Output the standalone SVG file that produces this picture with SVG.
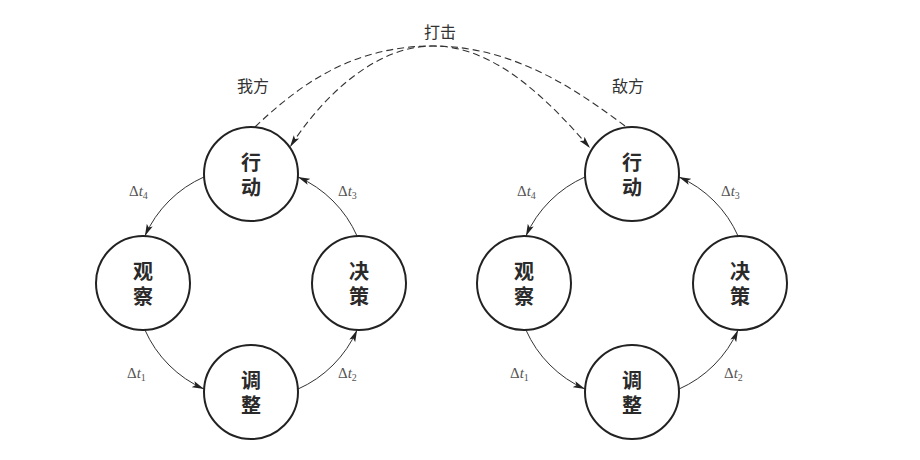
<svg xmlns="http://www.w3.org/2000/svg" width="920" height="460" viewBox="0 0 920 460">
<defs>
<marker id="arr" viewBox="0 0 12 8" refX="12" refY="4" markerWidth="12" markerHeight="8" markerUnits="userSpaceOnUse" orient="auto">
<path d="M0,0.8 L12,4 L0,7.2 L2.5,4 Z" fill="#222"/>
</marker>
</defs>
<style>
.node circle{fill:#fff;stroke:#222;stroke-width:2}
.node text{font-family:"Noto Sans CJK SC","Noto Sans",sans-serif;font-size:20px;font-weight:bold;fill:#2a2a2a;text-anchor:middle;writing-mode:vertical-rl;letter-spacing:5px}
.arc{fill:none;stroke:#333;stroke-width:1}
.dash{fill:none;stroke:#333;stroke-width:1.1;stroke-dasharray:7 4}
.dt{font-family:"Liberation Serif","Times New Roman",serif;font-size:15px;fill:#555}
.dt .i{font-style:italic}
.dt .s{font-size:10px}
.lbl{font-family:"Noto Sans CJK SC","Noto Sans",sans-serif;font-size:16px;fill:#333;text-anchor:middle}
</style>
<rect width="920" height="460" fill="#fff"/>
<g id="connectors">
<path class="arc" marker-end="url(#arr)" d="M204.1,176.9 A116,116 0 0 0 144.9,236.1"/>
<path class="arc" marker-end="url(#arr)" d="M144.9,329.9 A116,116 0 0 0 204.1,389.1"/>
<path class="arc" marker-end="url(#arr)" d="M297.9,389.1 A116,116 0 0 0 357.1,329.9"/>
<path class="arc" marker-end="url(#arr)" d="M357.1,236.1 A116,116 0 0 0 297.9,176.9"/>
<path class="arc" marker-end="url(#arr)" d="M585.1,176.9 A116,116 0 0 0 525.9,236.1"/>
<path class="arc" marker-end="url(#arr)" d="M525.9,329.9 A116,116 0 0 0 585.1,389.1"/>
<path class="arc" marker-end="url(#arr)" d="M678.9,389.1 A116,116 0 0 0 738.1,329.9"/>
<path class="arc" marker-end="url(#arr)" d="M738.1,236.1 A116,116 0 0 0 678.9,176.9"/>
<path class="dash" marker-end="url(#arr)" d="M255,127 C300,84 353,46 433,46 C493,46 545,96 590,148"/>
<path class="dash" marker-end="url(#arr)" d="M625,126 C577,90 513,46 433,46 C373,46 320,100 290,147"/>
</g>
<g id="node-L-act" class="node"><circle cx="251" cy="174" r="47"/><text x="251" y="177.5">行动</text></g>
<g id="node-L-obs" class="node"><circle cx="143" cy="283" r="47"/><text x="143" y="286.5">观察</text></g>
<g id="node-L-dec" class="node"><circle cx="359" cy="283" r="47"/><text x="359" y="286.5">决策</text></g>
<g id="node-L-ori" class="node"><circle cx="251" cy="392" r="47"/><text x="251" y="395.5">调整</text></g>
<g id="node-R-act" class="node"><circle cx="632" cy="174" r="47"/><text x="632" y="177.5">行动</text></g>
<g id="node-R-obs" class="node"><circle cx="524" cy="283" r="47"/><text x="524" y="286.5">观察</text></g>
<g id="node-R-dec" class="node"><circle cx="740" cy="283" r="47"/><text x="740" y="286.5">决策</text></g>
<g id="node-R-ori" class="node"><circle cx="632" cy="392" r="47"/><text x="632" y="395.5">调整</text></g>
<g id="labels">
<text class="lbl" x="253" y="92">我方</text>
<text class="lbl" x="440" y="38">打击</text>
<text class="lbl" x="628" y="92">敌方</text>
<text class="dt" x="129" y="196">Δ<tspan class="i">t</tspan><tspan class="s" dy="3">4</tspan></text>
<text class="dt" x="338" y="196">Δ<tspan class="i">t</tspan><tspan class="s" dy="3">3</tspan></text>
<text class="dt" x="127" y="378">Δ<tspan class="i">t</tspan><tspan class="s" dy="3">1</tspan></text>
<text class="dt" x="338" y="378">Δ<tspan class="i">t</tspan><tspan class="s" dy="3">2</tspan></text>
<text class="dt" x="517" y="196">Δ<tspan class="i">t</tspan><tspan class="s" dy="3">4</tspan></text>
<text class="dt" x="721" y="196">Δ<tspan class="i">t</tspan><tspan class="s" dy="3">3</tspan></text>
<text class="dt" x="510" y="378">Δ<tspan class="i">t</tspan><tspan class="s" dy="3">1</tspan></text>
<text class="dt" x="724" y="378">Δ<tspan class="i">t</tspan><tspan class="s" dy="3">2</tspan></text>
</g>
</svg>
